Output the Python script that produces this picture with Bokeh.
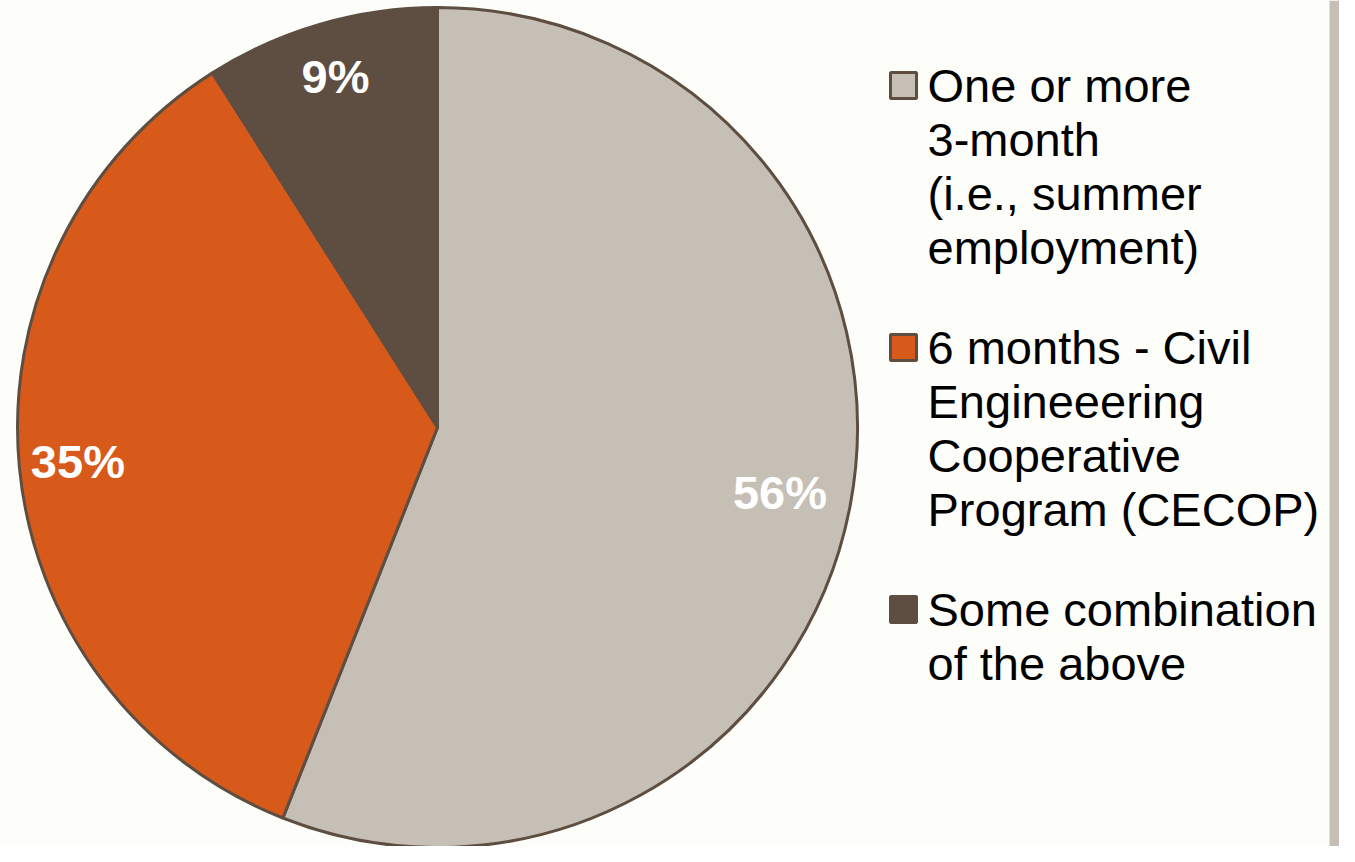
import math
from bokeh.plotting import figure
from bokeh.models import Range1d, ColumnDataSource, BoxAnnotation
from bokeh.core.properties import value
from bokeh.embed import file_html
from bokeh.resources import INLINE

# ---- data ----
categories = [
    "One or more 3-month (i.e., summer employment)",
    "6 months - Civil Engineeering Cooperative Program (CECOP)",
    "Some combination of the above",
]
legend_lines = [
    ["One or more", "3-month", "(i.e., summer", "employment)"],
    ["6 months - Civil", "Engineeering", "Cooperative", "Program (CECOP)"],
    ["Some combination", "of the above"],
]
shares = [56, 35, 9]
pct_labels = ["56%", "35%", "9%"]
colors = ["#C6BFB6", "#D75A1A", "#5E4E42"]

# ---- layout / style ----
W, H = 1339, 846
BG = "#FDFEF9"
EDGE = "#5E4E42"
cx, cy, r = 437, H - 427, 420
label_radius = [0.83, 0.86, 0.87]

p = figure(width=W, height=H, output_backend="svg", toolbar_location=None,
           x_range=Range1d(0, W), y_range=Range1d(0, H), min_border=0,
           background_fill_color=BG, border_fill_color=BG, outline_line_color=None)
p.axis.visible = False
p.grid.visible = False

total = float(sum(shares))
starts, ends, lx, ly = [], [], [], []
cum = 0.0
for s, f in zip(shares, label_radius):
    a0 = math.pi / 2 - 2 * math.pi * cum / total
    cum += s
    a1 = math.pi / 2 - 2 * math.pi * cum / total
    starts.append(a0)
    ends.append(a1)
    mid = (a0 + a1) / 2
    lx.append(cx + f * r * math.cos(mid))
    ly.append(cy + f * r * math.sin(mid))

src = ColumnDataSource(dict(start=starts, end=ends, color=colors, label=pct_labels,
                            lx=lx, ly=ly, cat=categories))
p.wedge(x=cx, y=cy, radius=r, start_angle="start", end_angle="end", direction="clock",
        fill_color="color", line_color=EDGE, line_width=3, source=src)
p.text(x="lx", y="ly", text="label", source=src, text_color="white",
       text_font=value("Liberation Sans"), text_font_style="bold",
       text_font_size="47px", text_align="center", text_baseline="middle")

# ---- legend (manual) ----
line_h = 54
entry_gap = 46
sq = 26
tx, sqx = 927, 903
first_y = H - 85
sq_x, sq_y, tl_x, tl_y, tl_t = [], [], [], [], []
y = first_y
for i, lines in enumerate(legend_lines):
    sq_x.append(sqx)
    sq_y.append(y)
    for j, t in enumerate(lines):
        tl_x.append(tx)
        tl_y.append(y - j * line_h)
        tl_t.append(t)
    y -= len(lines) * line_h + entry_gap

p.rect(x=sq_x, y=sq_y, width=sq, height=sq, fill_color=colors, line_color=EDGE,
       line_width=3)
p.text(x=tl_x, y=tl_y, text=tl_t, text_color="black",
       text_font=value("Liberation Sans"), text_font_size="47px",
       text_align="left", text_baseline="middle")

# right-edge strip
p.add_layout(BoxAnnotation(left=1329, right=W + 20, bottom=0, top=H,
                           fill_color="#C6BFB6", fill_alpha=1, line_color=None))

open("out.html", "w").write(file_html(p, INLINE))
